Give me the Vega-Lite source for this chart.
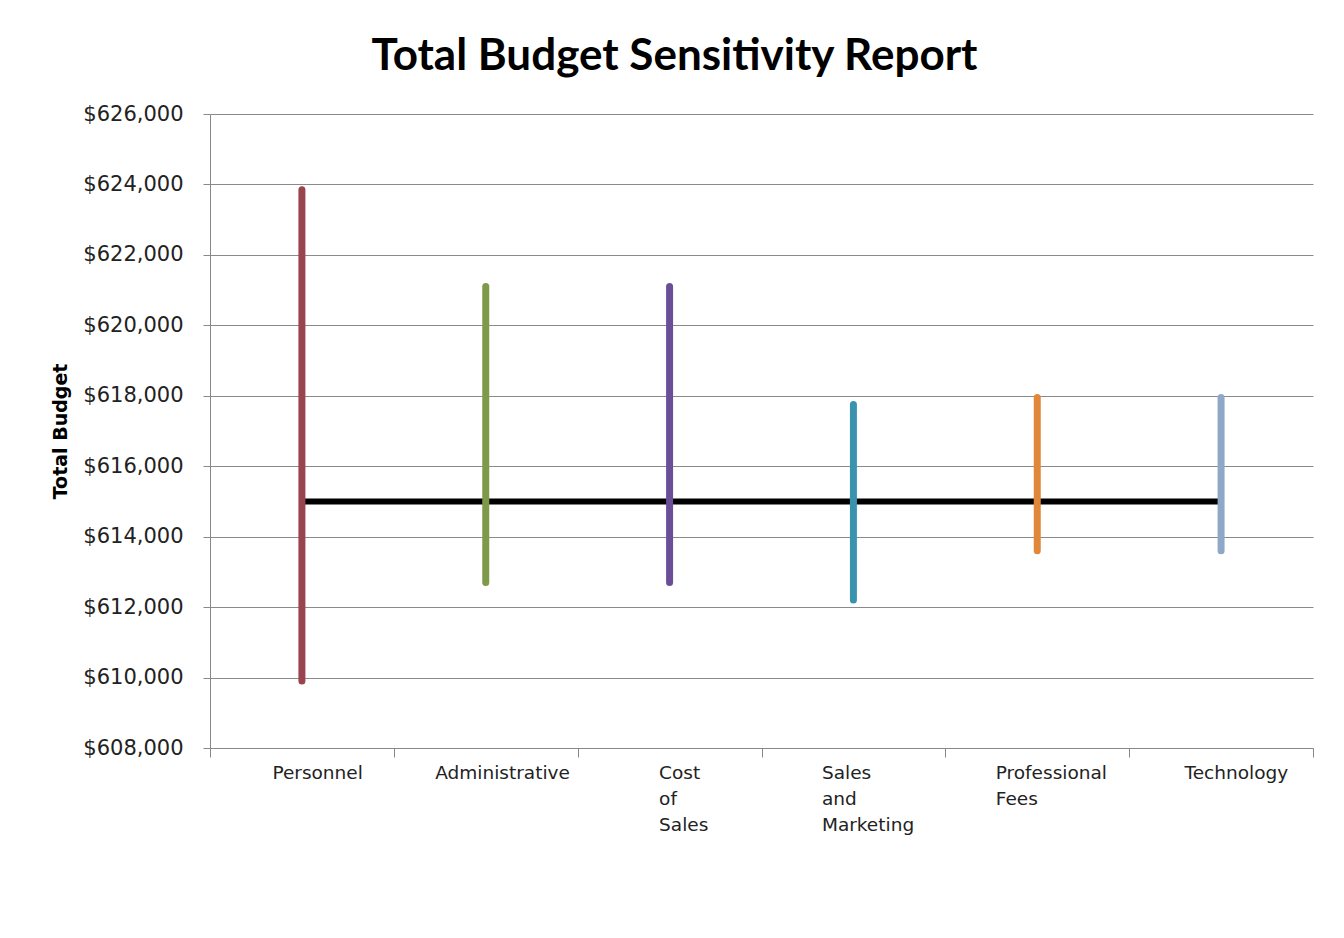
{
  "$schema": "https://vega.github.io/schema/vega-lite/v6.json",
  "autosize": "none",
  "width": 1103,
  "height": 634,
  "padding": {"left": 210, "top": 114, "right": 31, "bottom": 190},
  "background": "white",
  "title": {
    "text": "Total Budget Sensitivity Report",
    "font": "Lato",
    "fontSize": 44,
    "fontWeight": "bold",
    "color": "#000000",
    "anchor": "middle",
    "dx": -87,
    "offset": 24
  },
  "data": {
    "values": [
      {"category": "Personnel", "low": 609900, "high": 623850, "base": 615000, "color": "Personnel"},
      {"category": "Administrative", "low": 612700, "high": 621100, "base": 615000, "color": "Administrative"},
      {"category": "Cost of Sales", "low": 612700, "high": 621100, "base": 615000, "color": "Cost of Sales"},
      {"category": "Sales and Marketing", "low": 612200, "high": 617750, "base": 615000, "color": "Sales and Marketing"},
      {"category": "Professional Fees", "low": 613600, "high": 617950, "base": 615000, "color": "Professional Fees"},
      {"category": "Technology", "low": 613600, "high": 617950, "base": 615000, "color": "Technology"}
    ]
  },
  "encoding": {
    "x": {
      "field": "category",
      "type": "nominal",
      "sort": null,
      "scale": {"paddingInner": 0, "paddingOuter": 0},
      "axis": {
        "title": null,
        "tickBand": "extent",
        "labelAngle": 0,
        "labelFont": "DejaVu Sans",
        "labelFontSize": 18.5,
        "labelColor": "#222222",
        "labelAlign": "left",
        "labelBaseline": "top",
        "labelLineHeight": 26,
        "labelPadding": 6,
        "tickSize": 9,
        "tickColor": "#888888",
        "domainColor": "#888888",
        "grid": false,
        "labelExpr": "datum.value === 'Cost of Sales' ? ['Cost', 'of', 'Sales'] : datum.value === 'Sales and Marketing' ? ['Sales', 'and', 'Marketing'] : datum.value === 'Professional Fees' ? ['Professional', 'Fees'] : datum.value",
        "labelOffset": {"expr": "datum.value === 'Personnel' ? -30 : datum.value === 'Administrative' ? -51 : datum.value === 'Cost of Sales' ? -11 : datum.value === 'Sales and Marketing' ? -32 : datum.value === 'Professional Fees' ? -42 : -37"}
      }
    }
  },
  "layer": [
    {
      "mark": {"type": "line", "color": "#000000", "strokeWidth": 6, "strokeCap": "butt"},
      "encoding": {
        "y": {
          "field": "base",
          "type": "quantitative",
          "scale": {"domain": [608000, 626000], "nice": false, "zero": false},
          "axis": {
            "title": "Total Budget",
            "titleFont": "DejaVu Sans",
            "titleFontSize": 19,
            "titleFontWeight": "bold",
            "titleColor": "#000000",
            "titlePadding": 12,
            "values": [608000, 610000, 612000, 614000, 616000, 618000, 620000, 622000, 624000, 626000],
            "format": "$,.0f",
            "labelFont": "DejaVu Sans",
            "labelFontSize": 21,
            "labelColor": "#222222",
            "labelPadding": 20,
            "tickSize": 7,
            "tickColor": "#888888",
            "domainColor": "#888888",
            "gridColor": "#8a8a8a",
            "gridWidth": 1
          }
        }
      }
    },
    {
      "mark": {"type": "rule", "strokeWidth": 7, "strokeCap": "round"},
      "encoding": {
        "y": {"field": "low", "type": "quantitative"},
        "y2": {"field": "high"},
        "color": {
          "field": "color",
          "type": "nominal",
          "legend": null,
          "scale": {
            "domain": ["Personnel", "Administrative", "Cost of Sales", "Sales and Marketing", "Professional Fees", "Technology"],
            "range": ["#984550", "#7e9a48", "#6a4e98", "#3a93ae", "#e0873a", "#8fa8c8"]
          }
        }
      }
    }
  ],
  "config": {
    "view": {"stroke": null}
  }
}
